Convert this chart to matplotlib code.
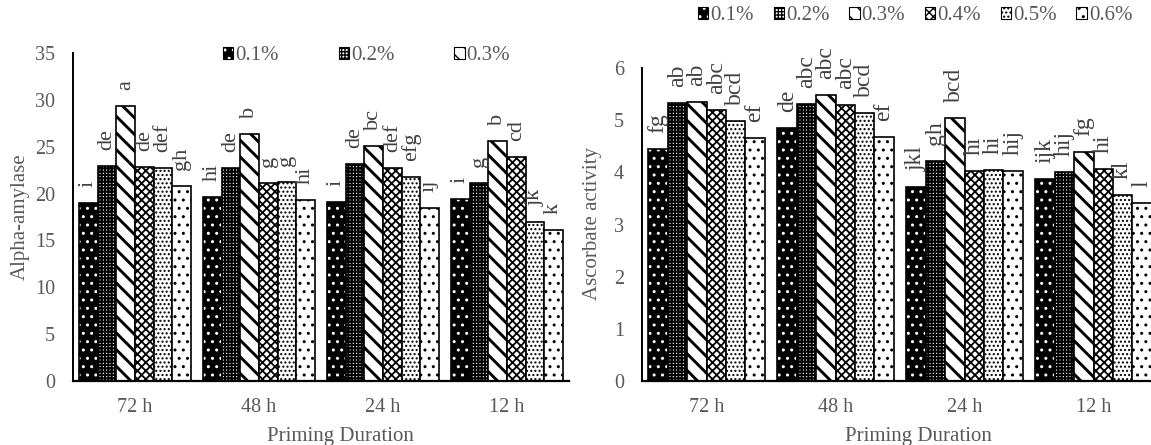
import matplotlib
matplotlib.use('Agg')
import matplotlib.pyplot as plt
import numpy as np
from matplotlib.patches import Patch
from matplotlib.legend_handler import HandlerTuple

plt.rcParams['font.family'] = ['Liberation Serif', 'DejaVu Serif']

durations = ['72 h', '48 h', '24 h', '12 h']
concentrations = ['0.1%', '0.2%', '0.3%', '0.4%', '0.5%', '0.6%']

# Alpha-amylase (per concentration, over durations 72,48,24,12 h)
amy_01 = [19.0, 19.6, 19.1, 19.4]
amy_02 = [22.9, 22.7, 23.2, 21.1]
amy_03 = [29.3, 26.4, 25.1, 25.6]
amy_04 = [22.8, 21.1, 22.7, 23.9]
amy_05 = [22.7, 21.2, 21.8, 17.0]
amy_06 = [20.8, 19.3, 18.5, 16.1]

amy_let_01 = ['i', 'hi', 'i', 'i']
amy_let_02 = ['de', 'de', 'de', 'g']
amy_let_03 = ['a', 'b', 'bc', 'b']
amy_let_04 = ['de', 'g', 'def', 'cd']
amy_let_05 = ['def', 'g', 'efg', 'jk']
amy_let_06 = ['gh', 'hi', 'ij', 'k']

# Ascorbate activity
asc_01 = [4.45, 4.85, 3.72, 3.87]
asc_02 = [5.33, 5.31, 4.22, 4.01]
asc_03 = [5.35, 5.48, 5.04, 4.39]
asc_04 = [5.19, 5.29, 4.03, 4.06]
asc_05 = [4.98, 5.14, 4.04, 3.57]
asc_06 = [4.66, 4.68, 4.03, 3.41]

asc_let_01 = ['fg', 'de', 'jkl', 'ijk']
asc_let_02 = ['ab', 'abc', 'gh', 'hij']
asc_let_03 = ['ab', 'abc', 'bcd', 'fg']
asc_let_04 = ['abc', 'abc', 'hi', 'hi']
asc_let_05 = ['bcd', 'bcd', 'hi', 'kl']
asc_let_06 = ['ef', 'ef', 'hij', 'l']

styles = [
    dict(face='black', hcolor='white', hatch='..', hlw=1.0),
    dict(face='white', hcolor='black', hatch='+++++', hlw=1.5),
    dict(face='white', hcolor='black', hatch='\\\\', hlw=2.1),
    dict(face='white', hcolor='black', hatch='xxxx', hlw=1.3),
    dict(face='white', hcolor='black', hatch='....', hlw=1.0),
    dict(face='white', hcolor='black', hatch='..', hlw=1.0),
]

GREY = '#595959'
LABC = '#404040'
W, H = 1151, 445
fig = plt.figure(figsize=(W / 100, H / 100), dpi=100)


def set_hlw(artist, lw):
    if hasattr(artist, 'set_hatch_linewidth'):
        artist.set_hatch_linewidth(lw)


def draw(ax, series, letters, ymax, ystep, label_fs):
    x = np.arange(len(durations))
    w = 0.15
    for i, (vals, labs) in enumerate(zip(series, letters)):
        st = styles[i]
        pos = x + (i - 2.5) * w
        with plt.rc_context({'hatch.linewidth': st['hlw']}):
            hb = ax.bar(pos, vals, w, facecolor=st['face'], edgecolor=st['hcolor'],
                        hatch=st['hatch'], linewidth=0)
            for p in hb:
                set_hlw(p, st['hlw'])
        ax.bar(pos, vals, w, facecolor='none', edgecolor='black', linewidth=1.2)
        for p, v, t in zip(pos, vals, labs):
            ax.annotate(t, (p, v), xytext=(0, 11.5), textcoords='offset points',
                        rotation=90, ha='center', va='bottom', fontsize=label_fs,
                        color=LABC)
    ax.set_xlim(-0.5, len(durations) - 0.5)
    ax.set_ylim(0, ymax)
    ax.set_yticks(np.arange(0, ymax + 0.001, ystep))
    ax.set_xticks(x)
    ax.set_xticklabels(durations)
    ax.tick_params(axis='both', length=0, labelsize=14.5, labelcolor=GREY)
    ax.tick_params(axis='y', pad=13)
    ax.tick_params(axis='x', pad=12.5)
    for s in ['top', 'right']:
        ax.spines[s].set_visible(False)
    ax.spines['left'].set_linewidth(1.4)
    ax.spines['bottom'].set_linewidth(1.6)
    ax.set_facecolor('none')


def handles():
    hs = []
    for st in styles:
        hp = Patch(facecolor=st['face'], edgecolor=st['hcolor'], hatch=st['hatch'], linewidth=0)
        set_hlw(hp, st['hlw'])
        op = Patch(facecolor='none', edgecolor='black', linewidth=0.8)
        hs.append((hp, op))
    return hs


# Left chart
ax1 = fig.add_axes([73 / W, 64 / H, 496 / W, 328 / H])
draw(ax1,
     [amy_01, amy_02, amy_03, amy_04, amy_05, amy_06],
     [amy_let_01, amy_let_02, amy_let_03, amy_let_04, amy_let_05, amy_let_06],
     35, 5, 16)

# Right chart
ax2 = fig.add_axes([642 / W, 64 / H, 516 / W, 313 / H])
draw(ax2,
     [asc_01, asc_02, asc_03, asc_04, asc_05, asc_06],
     [asc_let_01, asc_let_02, asc_let_03, asc_let_04, asc_let_05, asc_let_06],
     6, 1, 17)

hs = handles()
fig.legend(hs[:3], concentrations[:3], handler_map={tuple: HandlerTuple(ndivide=1)},
           loc='center left', bbox_to_anchor=(223 / W, 1 - 56 / H), ncol=3,
           frameon=False, fontsize=15, labelcolor=GREY, handlelength=0.5,
           handleheight=0.5, handletextpad=0.1, columnspacing=2.86,
           borderpad=0, borderaxespad=0)
fig.legend(hs, concentrations, handler_map={tuple: HandlerTuple(ndivide=1)},
           loc='center left', bbox_to_anchor=(698 / W, 1 - 16 / H), ncol=6,
           frameon=False, fontsize=15, labelcolor=GREY, handlelength=0.5,
           handleheight=0.5, handletextpad=0.1, columnspacing=0.94,
           borderpad=0, borderaxespad=0)

fig.text(20 / W, 1 - 217 / H, 'Alpha-amylase', rotation=90, ha='center', va='center',
         fontsize=15, color=GREY)
fig.text(593 / W, 1 - 224 / H, 'Ascorbate activity', rotation=90, ha='center', va='center',
         fontsize=15, color=GREY)
fig.text(340 / W, 1 - 436 / H, 'Priming Duration', ha='center', va='center',
         fontsize=15, color=GREY)
fig.text(918 / W, 1 - 436 / H, 'Priming Duration', ha='center', va='center',
         fontsize=15, color=GREY)

fig.savefig('out.png', dpi=100)
